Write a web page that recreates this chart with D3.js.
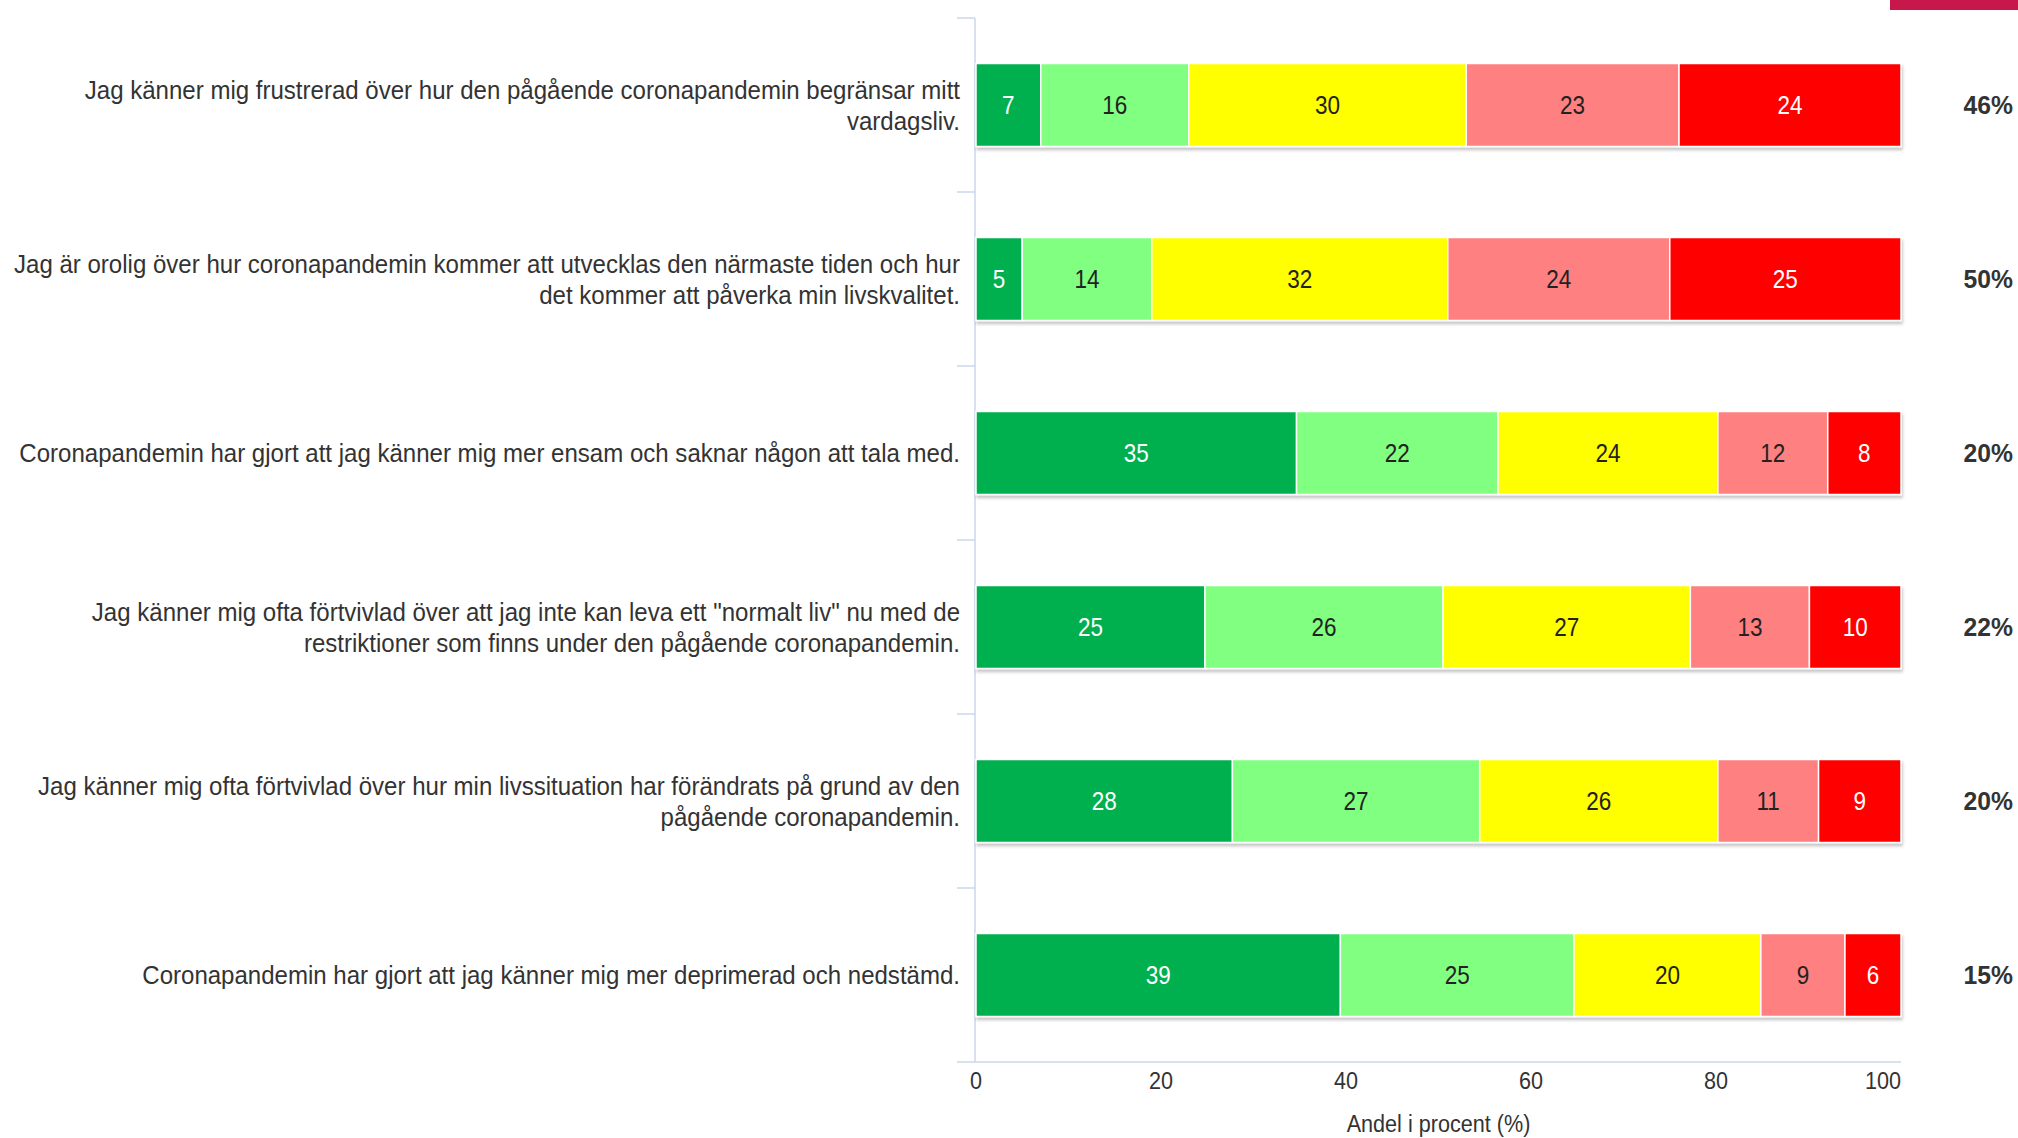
<!DOCTYPE html>
<html>
<head>
<meta charset="utf-8">
<script src="https://cdn.jsdelivr.net/npm/d3@7"></script>
<style>
  html, body { margin: 0; padding: 0; background: #fff; }
  svg { display: block; font-family: "Liberation Sans", Arial, sans-serif; }
</style>
</head>
<body>
<div id="chart"></div>
<script>
// Statements (left axis), one entry per bar; "\n" marks the line break
var statements = [
  "Jag känner mig frustrerad över hur den pågående coronapandemin begränsar mitt\nvardagsliv.",
  "Jag är orolig över hur coronapandemin kommer att utvecklas den närmaste tiden och hur\ndet kommer att påverka min livskvalitet.",
  "Coronapandemin har gjort att jag känner mig mer ensam och saknar någon att tala med.",
  "Jag känner mig ofta förtvivlad över att jag inte kan leva ett \"normalt liv\" nu med de\nrestriktioner som finns under den pågående coronapandemin.",
  "Jag känner mig ofta förtvivlad över hur min livssituation har förändrats på grund av den\npågående coronapandemin.",
  "Coronapandemin har gjort att jag känner mig mer deprimerad och nedstämd."
];

// Answer shares per statement, from "instämmer inte alls" to "instämmer helt"
var level1 = [7, 5, 35, 25, 28, 39];
var level2 = [16, 14, 22, 26, 27, 25];
var level3 = [30, 32, 24, 27, 26, 20];
var level4 = [23, 24, 12, 13, 11, 9];
var level5 = [24, 25, 8, 10, 9, 6];

// Share agreeing (shown at the right)
var agreeShare = ["46%", "50%", "20%", "22%", "20%", "15%"];

var xTicks = [0, 20, 40, 60, 80, 100];
var axisTitle = "Andel i procent (%)";

var levelColors = ["#00b050", "#80ff80", "#ffff00", "#ff8080", "#ff0000"];
var labelColors = ["#ffffff", "#222222", "#222222", "#222222", "#ffffff"];

var W = 2018, H = 1138;
var plot = { left: 976, right: 1901, top: 18, bottom: 1062 };

var levels = [level1, level2, level3, level4, level5];

// the source screenshot is slightly squeezed sideways, so texts get a narrow scale
function place(sel, fx, fy, sx) {
  sel.attr("transform", function(d, i) {
    return "translate(" + fx(d, i) + "," + fy(d, i) + ") scale(" + sx + ",1)";
  });
}

var svg = d3.select("#chart").append("svg")
  .attr("width", W)
  .attr("height", H);

var defs = svg.append("defs");
var shadow = defs.append("filter").attr("id", "shadow")
  .attr("x", "-5%").attr("y", "-20%").attr("width", "110%").attr("height", "150%");
shadow.append("feDropShadow")
  .attr("dx", 1).attr("dy", 3).attr("stdDeviation", 1.5)
  .attr("flood-color", "#000").attr("flood-opacity", 0.22);

// top-right accent strip
svg.append("rect")
  .attr("x", 1890).attr("y", 0).attr("width", W - 1890).attr("height", 10)
  .attr("fill", "#c8174a");

var x = d3.scaleLinear().domain([0, 100]).range([plot.left, plot.right]);
var y = d3.scaleBand().domain(d3.range(statements.length))
  .range([plot.top, plot.bottom]).paddingInner(0.523).paddingOuter(0.2615);

// stacked percentages (normalised to 100, like a percent stack)
var rows = statements.map(function(s, i) {
  var vals = levels.map(function(l) { return l[i]; });
  var total = d3.sum(vals);
  var acc = 0;
  return vals.map(function(v, k) {
    var seg = { row: i, level: k, value: v, x0: acc / total * 100 };
    acc += v;
    seg.x1 = acc / total * 100;
    return seg;
  });
});

// axes
svg.append("line")
  .attr("x1", plot.left - 1).attr("x2", plot.left - 1)
  .attr("y1", plot.top).attr("y2", plot.bottom)
  .attr("stroke", "#ccd6eb").attr("stroke-width", 1.5);
svg.append("line")
  .attr("x1", plot.left - 1).attr("x2", plot.right)
  .attr("y1", plot.bottom).attr("y2", plot.bottom)
  .attr("stroke", "#ccd6eb").attr("stroke-width", 1.5);

var bandStep = (plot.bottom - plot.top) / statements.length;
svg.selectAll(".cat-tick")
  .data(d3.range(statements.length + 1))
  .enter().append("line")
    .attr("x1", plot.left - 19).attr("x2", plot.left - 1)
    .attr("y1", function(d) { return plot.top + d * bandStep; })
    .attr("y2", function(d) { return plot.top + d * bandStep; })
    .attr("stroke", "#ccd6eb").attr("stroke-width", 1.5);

// bars
var barGroups = svg.selectAll(".bar")
  .data(rows)
  .enter().append("g")
    .attr("class", "bar")
    .attr("filter", "url(#shadow)");

barGroups.selectAll("rect")
  .data(function(d) { return d; })
  .enter().append("rect")
    .attr("x", function(d) { return x(d.x0); })
    .attr("y", function(d) { return y(d.row); })
    .attr("width", function(d) { return x(d.x1) - x(d.x0); })
    .attr("height", y.bandwidth())
    .attr("fill", function(d) { return levelColors[d.level]; })
    .attr("stroke", "#ffffff")
    .attr("stroke-width", 1.5);

// data labels
var dl = svg.selectAll(".dlabel")
  .data(d3.merge(rows))
  .enter().append("text")
    .attr("dy", "0.36em")
    .attr("text-anchor", "middle")
    .style("font-size", "25px")
    .style("fill", function(d) { return labelColors[d.level]; })
    .text(function(d) { return d.value; });
place(dl,
  function(d) { return (x(d.x0) + x(d.x1)) / 2; },
  function(d) { return y(d.row) + y.bandwidth() / 2; }, 0.9);

// share at the right
var sh = svg.selectAll(".share")
  .data(agreeShare)
  .enter().append("text")
    .attr("dy", "0.36em")
    .attr("text-anchor", "end")
    .style("font-size", "26px")
    .style("font-weight", "bold")
    .style("fill", "#333333")
    .text(function(d) { return d; });
place(sh,
  function() { return 2013; },
  function(d, i) { return y(i) + y.bandwidth() / 2; }, 0.95);

// statement labels
var lineH = 31;
var cats = svg.selectAll(".cat")
  .data(statements)
  .enter().append("text")
    .attr("class", "cat")
    .attr("text-anchor", "end")
    .style("font-size", "26px")
    .style("fill", "#333333")
    .each(function(d) {
      var lines = d.split("\n");
      var t = d3.select(this);
      lines.forEach(function(l, k) {
        t.append("tspan")
          .attr("x", 0)
          .attr("y", (k - (lines.length - 1) / 2) * lineH)
          .attr("dy", "0.36em")
          .text(l);
      });
    });
place(cats,
  function() { return 960; },
  function(d, i) { return y(i) + y.bandwidth() / 2; }, 0.925);

// x tick labels
var xt = svg.selectAll(".xtick")
  .data(xTicks)
  .enter().append("text")
    .attr("dy", "0.36em")
    .attr("text-anchor", function(d, i) { return i === xTicks.length - 1 ? "end" : "middle"; })
    .style("font-size", "24px")
    .style("fill", "#333333")
    .text(function(d) { return d; });
place(xt,
  function(d) { return x(d); },
  function() { return 1080; }, 0.9);

var title = svg.append("text")
  .datum(axisTitle)
  .attr("dy", "0.36em")
  .attr("text-anchor", "middle")
  .style("font-size", "24px")
  .style("fill", "#333333")
  .text(function(d) { return d; });
place(title,
  function() { return (plot.left + plot.right) / 2; },
  function() { return 1123; }, 0.9);
</script>
</body>
</html>
